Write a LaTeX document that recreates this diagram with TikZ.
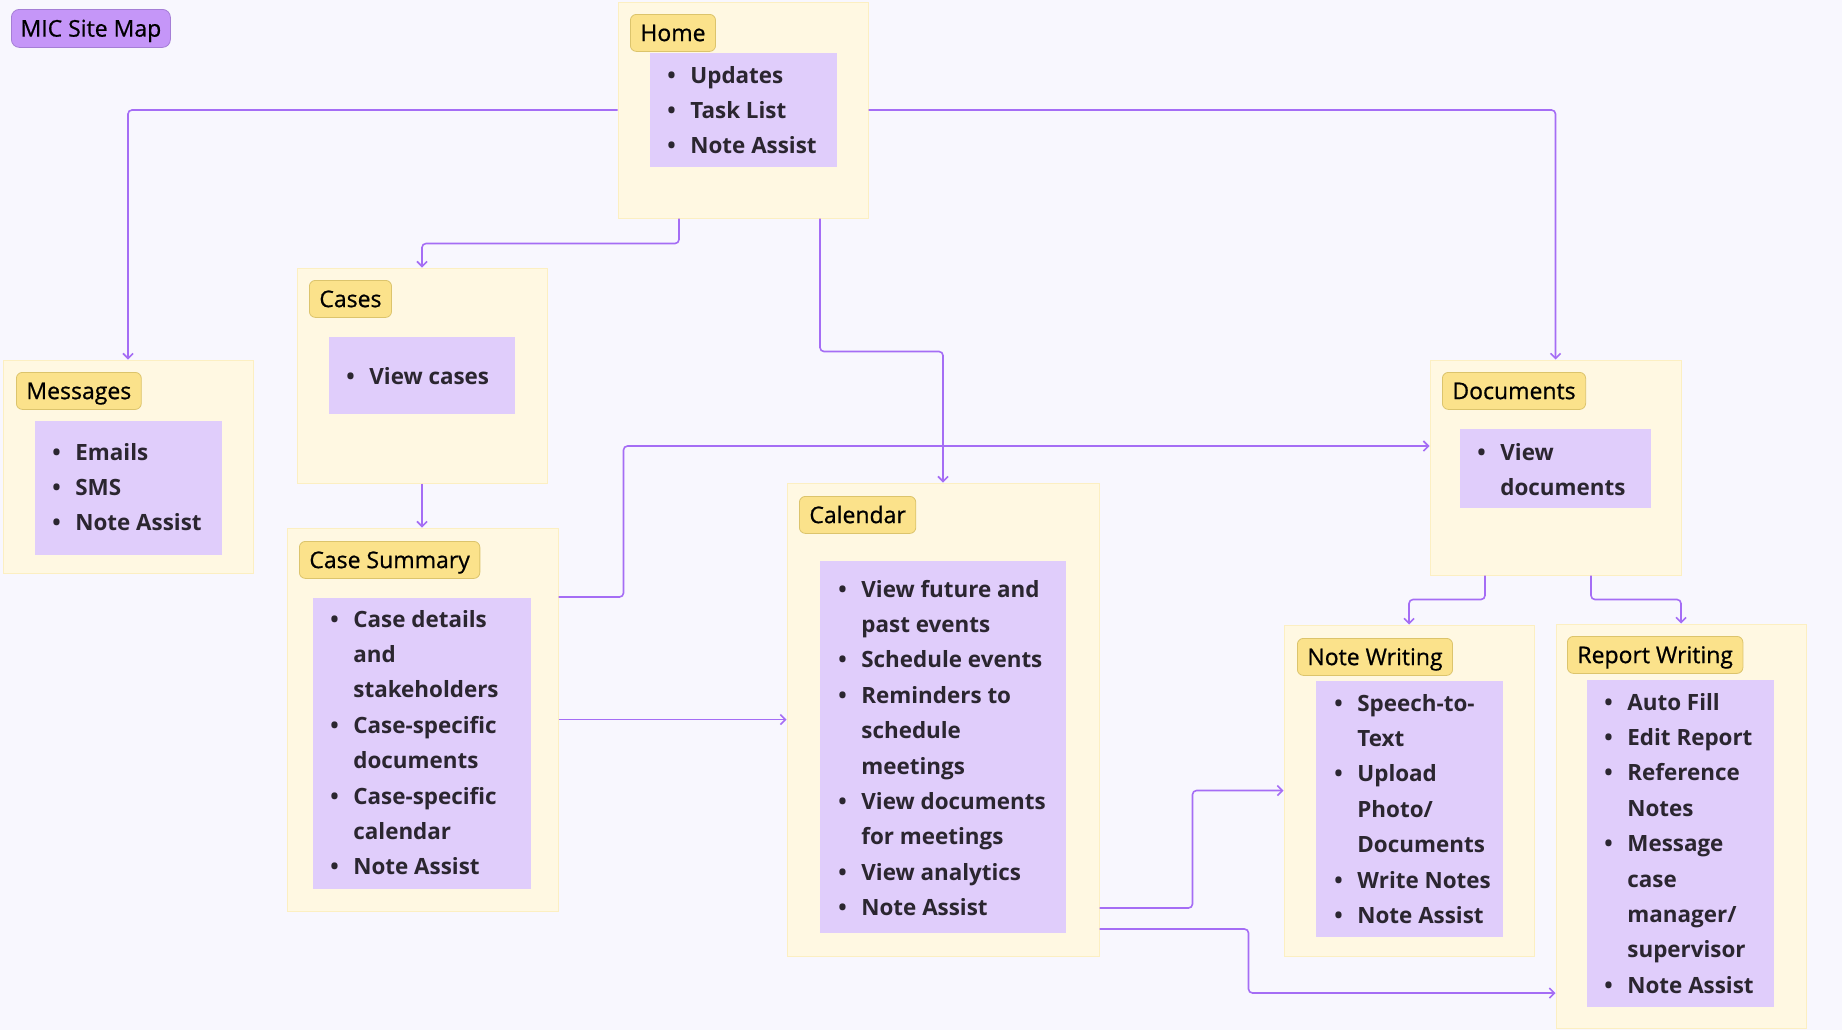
\documentclass[tikz,border=0pt]{standalone}
\usepackage{fontspec}
\setmainfont{Open Sans}
\newfontfamily\tagfont{Open Sans}[FakeBold=0.7]
\usetikzlibrary{arrows.meta,fit}

\definecolor{bgc}{HTML}{F8F7FE}
\definecolor{panelfill}{HTML}{FFF8E2}
\definecolor{panelline}{HTML}{FCEFC2}
\definecolor{tagfill}{HTML}{FBE28B}
\definecolor{tagline}{HTML}{DCC46C}
\definecolor{listfill}{HTML}{E0CDFB}
\definecolor{itemtext}{HTML}{2B2630}
\definecolor{titlefill}{HTML}{C596F8}
\definecolor{titleline}{HTML}{A57ED6}
\definecolor{linkc}{HTML}{A56DF5}

\newcommand\itembul{\llap{\textbullet\hspace{7.3pt}}}

\tikzset{
  panel/.style={draw=panelline, fill=panelfill, inner sep=0pt, line width=0.5pt},
  listbox/.style={fill=listfill, inner sep=0pt},
  tag/.style={draw=tagline, fill=tagfill, rounded corners=3pt, anchor=north west,
    minimum height=18.5pt, inner xsep=5pt, inner ysep=0pt,
    text height=8.2pt, text depth=0pt, text=black,
    font=\fontsize{11.5}{14}\selectfont\tagfont},
  items/.style={anchor=base west, inner sep=0pt, text=itemtext,
    font=\fontsize{11.2}{17.7}\selectfont\bfseries},
  link/.style={draw=linkc, line width=0.8pt, rounded corners=2pt,
    -{Straight Barb[length=2.5pt,width=5pt]}}
}

\begin{document}
\begin{tikzpicture}[x=0.5pt,y=-0.5pt]
  \useasboundingbox (0,0) rectangle (1842,1030);
  \fill[bgc] (0,0) rectangle (1842,1030);

  % title
  \node[draw=titleline, fill=titlefill, rounded corners=4pt, anchor=north west,
    minimum width=79.5pt, minimum height=19pt, inner sep=0pt,
    text height=8.2pt, text depth=0pt,
    font=\fontsize{11.5}{14}\selectfont\tagfont] (title) at (11,9) {MIC Site Map};

  % panels
  \node[panel, fit={(618,2) (868,218)}] (home) {};
  \node[panel, fit={(297,268) (547,483)}] (cases) {};
  \node[panel, fit={(3,360) (253,573)}] (messages) {};
  \node[panel, fit={(287,528) (558,911)}] (casesum) {};
  \node[panel, fit={(787,483) (1099,956)}] (calendar) {};
  \node[panel, fit={(1430,360) (1681,575)}] (documents) {};
  \node[panel, fit={(1284,625) (1534,956)}] (notewr) {};
  \node[panel, fit={(1556,624) (1806,1028)}] (report) {};

  % list backgrounds
  \node[listbox, fit={(650,53) (837,167)}] (homelist) {};
  \node[listbox, fit={(329,337) (515,414)}] (caseslist) {};
  \node[listbox, fit={(35,421) (222,555)}] (messageslist) {};
  \node[listbox, fit={(313,598) (531,889)}] (casesumlist) {};
  \node[listbox, fit={(820,561) (1066,933)}] (calendarlist) {};
  \node[listbox, fit={(1460,429) (1651,508)}] (documentslist) {};
  \node[listbox, fit={(1316,681) (1503,937)}] (notewrlist) {};
  \node[listbox, fit={(1587,680) (1774,1007)}] (reportlist) {};

  % labels
  \node[tag] (hometag) at (630,14) {Home};
  \node[tag] (casestag) at (309,280) {Cases};
  \node[tag] (messagestag) at (16,372) {Messages};
  \node[tag] (casesumtag) at (299,541) {Case Summary};
  \node[tag] (calendartag) at (799,496) {Calendar};
  \node[tag] (documentstag) at (1442,372) {Documents};
  \node[tag] (notewrtag) at (1297,638) {Note Writing};
  \node[tag] (reporttag) at (1567,636) {Report Writing};

  % items
  \node[items] (homeitems) at (690,83) {\begin{tabular}[t]{@{}l@{}}
    \itembul Updates\\ \itembul Task List\\ \itembul Note Assist\end{tabular}};
  \node[items] (casesitems) at (369,384) {\begin{tabular}[t]{@{}l@{}}
    \itembul View cases\end{tabular}};
  \node[items] (messagesitems) at (75,460) {\begin{tabular}[t]{@{}l@{}}
    \itembul Emails\\ \itembul SMS\\ \itembul Note Assist\end{tabular}};
  \node[items] (casesumitems) at (353,627) {\begin{tabular}[t]{@{}l@{}}
    \itembul Case details\\ and\\ stakeholders\\
    \itembul Case-specific\\ documents\\
    \itembul Case-specific\\ calendar\\
    \itembul Note Assist\end{tabular}};
  \node[items] (calendaritems) at (861,597) {\begin{tabular}[t]{@{}l@{}}
    \itembul View future and\\ past events\\
    \itembul Schedule events\\
    \itembul Reminders to\\ schedule\\ meetings\\
    \itembul View documents\\ for meetings\\
    \itembul View analytics\\
    \itembul Note Assist\end{tabular}};
  \node[items] (documentsitems) at (1500,460) {\begin{tabular}[t]{@{}l@{}}
    \itembul View\\ documents\end{tabular}};
  \node[items] (notewritems) at (1357,711) {\begin{tabular}[t]{@{}l@{}}
    \itembul Speech-to-\\ Text\\
    \itembul Upload\\ Photo/\\ Documents\\
    \itembul Write Notes\\
    \itembul Note Assist\end{tabular}};
  \node[items] (reportitems) at (1627,710) {\begin{tabular}[t]{@{}l@{}}
    \itembul Auto Fill\\
    \itembul Edit Report\\
    \itembul Reference\\ Notes\\
    \itembul Message\\ case\\ manager/\\ supervisor\\
    \itembul Note Assist\end{tabular}};

  % links
  \draw[link] (home.west) -| (messages.north);
  \draw[link] (home.east) -| (documents.north);
  \draw[link] ([xshift=-32pt]home.south) -- ++(0,25) -| (cases.north);
  \draw[link] ([xshift=38.5pt]home.south) -- ++(0,133) -| (calendar.north);
  \draw[link] (cases.south) -- (cases.south |- casesum.north);
  \draw[link] ([yshift=61.25pt]casesum.east) -- ++(65,0) |- ([yshift=10.75pt]documents.west);
  \draw[link] (casesum.east) -- (calendar.west);
  \draw[link] ([yshift=-94.25pt]calendar.east) -- ++(93,0) |- (notewr.west);
  \draw[link] ([yshift=-104.75pt]calendar.east) -- ++(149,0) |- ([yshift=-83.5pt]report.west);
  \draw[link] ([xshift=-35.25pt]documents.south) -- ++(0,24) -| (notewr.north);
  \draw[link] ([xshift=17.75pt]documents.south) -- ++(0,24) -| (report.north);
\end{tikzpicture}
\end{document}
